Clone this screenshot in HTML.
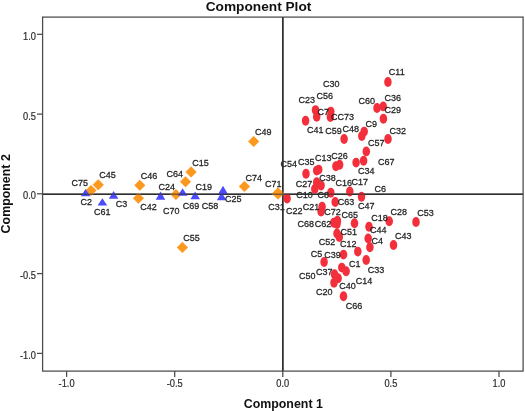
<!DOCTYPE html>
<html><head><meta charset="utf-8"><title>Component Plot</title>
<style>
html,body{margin:0;padding:0;background:#fff;}
body{width:525px;height:411px;overflow:hidden;}
svg{display:block;filter:blur(0.35px);font-family:"Liberation Sans",Arial,sans-serif;}
.lb{font-size:9.8px;fill:#1f1f1f;stroke:#222;stroke-width:0.27px;}
.tk{font-size:10.1px;fill:#2a2a2a;stroke:#333;stroke-width:0.2px;}
.ttl{font-size:12.4px;font-weight:bold;fill:#111;}
</style></head><body>
<svg width="525" height="411" viewBox="0 0 525 411">
<rect width="525" height="411" fill="#fff"/>

<g stroke="#2e2e2e" fill="none"><line x1="282.8" y1="17.1" x2="282.8" y2="371.1" stroke-width="1.6"/><line x1="42.6" y1="194.3" x2="523.1" y2="194.3" stroke-width="1.6"/></g>
<g fill="#f32f3b">
<ellipse cx="387.9" cy="82.0" rx="3.75" ry="4.95"/>
<ellipse cx="315.5" cy="110.1" rx="3.75" ry="4.95"/>
<ellipse cx="316.7" cy="116.7" rx="3.75" ry="4.95"/>
<ellipse cx="330.8" cy="111.6" rx="3.75" ry="4.95"/>
<ellipse cx="330.4" cy="117.0" rx="3.75" ry="4.95"/>
<ellipse cx="305.6" cy="120.8" rx="3.75" ry="4.95"/>
<ellipse cx="377.0" cy="108.0" rx="3.75" ry="4.95"/>
<ellipse cx="383.2" cy="106.4" rx="3.75" ry="4.95"/>
<ellipse cx="383.4" cy="118.8" rx="3.75" ry="4.95"/>
<ellipse cx="344.1" cy="139.0" rx="3.75" ry="4.95"/>
<ellipse cx="364.2" cy="131.6" rx="3.75" ry="4.95"/>
<ellipse cx="361.8" cy="136.1" rx="3.75" ry="4.95"/>
<ellipse cx="388.0" cy="139.0" rx="3.75" ry="4.95"/>
<ellipse cx="366.3" cy="151.4" rx="3.75" ry="4.95"/>
<ellipse cx="363.6" cy="160.8" rx="3.75" ry="4.95"/>
<ellipse cx="356.1" cy="162.6" rx="3.75" ry="4.95"/>
<ellipse cx="339.6" cy="164.8" rx="3.75" ry="4.95"/>
<ellipse cx="335.9" cy="166.3" rx="3.75" ry="4.95"/>
<ellipse cx="316.7" cy="170.6" rx="3.75" ry="4.95"/>
<ellipse cx="318.7" cy="169.6" rx="3.75" ry="4.95"/>
<ellipse cx="306.0" cy="173.8" rx="3.75" ry="4.95"/>
<ellipse cx="316.7" cy="182.3" rx="3.75" ry="4.95"/>
<ellipse cx="321.1" cy="185.5" rx="3.75" ry="4.95"/>
<ellipse cx="314.8" cy="188.9" rx="3.75" ry="4.95"/>
<ellipse cx="330.8" cy="192.7" rx="3.75" ry="4.95"/>
<ellipse cx="349.8" cy="191.5" rx="3.75" ry="4.95"/>
<ellipse cx="361.5" cy="196.8" rx="3.75" ry="4.95"/>
<ellipse cx="287.1" cy="198.6" rx="3.75" ry="4.95"/>
<ellipse cx="335.2" cy="202.0" rx="3.75" ry="4.95"/>
<ellipse cx="322.1" cy="206.8" rx="3.75" ry="4.95"/>
<ellipse cx="321.1" cy="211.6" rx="3.75" ry="4.95"/>
<ellipse cx="337.4" cy="220.8" rx="3.75" ry="4.95"/>
<ellipse cx="333.8" cy="222.8" rx="3.75" ry="4.95"/>
<ellipse cx="337.0" cy="224.0" rx="3.75" ry="4.95"/>
<ellipse cx="354.5" cy="223.3" rx="3.75" ry="4.95"/>
<ellipse cx="369.0" cy="226.8" rx="3.75" ry="4.95"/>
<ellipse cx="389.2" cy="221.2" rx="3.75" ry="4.95"/>
<ellipse cx="416.0" cy="222.0" rx="3.75" ry="4.95"/>
<ellipse cx="337.0" cy="233.5" rx="3.75" ry="4.95"/>
<ellipse cx="339.3" cy="237.0" rx="3.75" ry="4.95"/>
<ellipse cx="368.2" cy="238.5" rx="3.75" ry="4.95"/>
<ellipse cx="369.9" cy="247.2" rx="3.75" ry="4.95"/>
<ellipse cx="393.5" cy="245.0" rx="3.75" ry="4.95"/>
<ellipse cx="357.8" cy="251.6" rx="3.75" ry="4.95"/>
<ellipse cx="343.5" cy="254.6" rx="3.75" ry="4.95"/>
<ellipse cx="366.2" cy="260.0" rx="3.75" ry="4.95"/>
<ellipse cx="324.1" cy="262.0" rx="3.75" ry="4.95"/>
<ellipse cx="341.8" cy="267.6" rx="3.75" ry="4.95"/>
<ellipse cx="346.1" cy="271.2" rx="3.75" ry="4.95"/>
<ellipse cx="334.5" cy="274.3" rx="3.75" ry="4.95"/>
<ellipse cx="338.1" cy="278.2" rx="3.75" ry="4.95"/>
<ellipse cx="334.0" cy="282.7" rx="3.75" ry="4.95"/>
<ellipse cx="343.5" cy="296.2" rx="3.75" ry="4.95"/>
</g>
<g fill="#fb981d" stroke="#fff" stroke-width="0.4">
<polygon points="85.2,190.4 91.0,184.7 96.8,190.4 91.0,196.2"/>
<polygon points="92.5,184.8 98.3,179.1 104.0,184.8 98.3,190.6"/>
<polygon points="134.1,185.3 139.8,179.6 145.6,185.3 139.8,191.1"/>
<polygon points="132.7,198.2 138.4,192.4 144.2,198.2 138.4,203.9"/>
<polygon points="170.2,194.5 175.9,188.8 181.7,194.5 175.9,200.2"/>
<polygon points="179.8,181.8 185.5,176.1 191.2,181.8 185.5,187.6"/>
<polygon points="185.3,171.9 191.1,166.2 196.8,171.9 191.1,177.7"/>
<polygon points="238.7,186.4 244.4,180.7 250.2,186.4 244.4,192.2"/>
<polygon points="247.9,141.4 253.7,135.7 259.4,141.4 253.7,147.2"/>
<polygon points="271.7,193.4 278.0,187.1 284.3,193.4 278.0,199.7"/>
<polygon points="176.7,247.4 182.4,241.7 188.2,247.4 182.4,253.2"/>
</g>
<g fill="#4b4bfb">
<polygon points="85.6,189.0 90.4,196.3 80.8,196.3"/>
<polygon points="102.4,198.2 107.2,205.5 97.6,205.5"/>
<polygon points="113.6,190.9 118.4,198.7 108.8,198.7"/>
<polygon points="160.5,191.5 165.3,199.7 155.7,199.7"/>
<polygon points="182.6,188.2 187.4,195.8 177.8,195.8"/>
<polygon points="195.2,191.5 200.0,199.2 190.4,199.2"/>
<polygon points="223.0,185.7 227.8,194.1 218.2,194.1"/>
<polygon points="221.6,192.3 226.4,200.2 216.8,200.2"/>
</g>
<g class="lb">
<text transform="translate(71.4,186.3) scale(0.920,1)">C75</text>
<text transform="translate(99.3,177.8) scale(0.920,1)">C45</text>
<text transform="translate(80.6,205.3) scale(0.920,1)">C2</text>
<text transform="translate(94.0,214.8) scale(0.920,1)">C61</text>
<text transform="translate(115.8,206.9) scale(0.920,1)">C3</text>
<text transform="translate(140.8,178.6) scale(0.920,1)">C46</text>
<text transform="translate(158.6,190.2) scale(0.920,1)">C24</text>
<text transform="translate(140.2,210.0) scale(0.920,1)">C42</text>
<text transform="translate(166.4,177.3) scale(0.920,1)">C64</text>
<text transform="translate(162.9,214.3) scale(0.920,1)">C70</text>
<text transform="translate(192.3,165.6) scale(0.920,1)">C15</text>
<text transform="translate(195.5,190.0) scale(0.920,1)">C19</text>
<text transform="translate(182.8,209.0) scale(0.920,1)">C69</text>
<text transform="translate(201.8,208.7) scale(0.920,1)">C58</text>
<text transform="translate(225.1,201.6) scale(0.920,1)">C25</text>
<text transform="translate(255.0,134.6) scale(0.920,1)">C49</text>
<text transform="translate(245.5,180.8) scale(0.920,1)">C74</text>
<text transform="translate(264.9,186.9) scale(0.920,1)">C71</text>
<text transform="translate(268.3,210.0) scale(0.920,1)">C31</text>
<text transform="translate(183.3,240.7) scale(0.920,1)">C55</text>
<text transform="translate(388.8,75.3) scale(0.920,1)">C11</text>
<text transform="translate(322.9,87.2) scale(0.920,1)">C30</text>
<text transform="translate(316.6,98.9) scale(0.920,1)">C56</text>
<text transform="translate(298.6,103.3) scale(0.920,1)">C23</text>
<text transform="translate(317.6,114.5) scale(0.920,1)">C7</text>
<text transform="translate(330.9,120.3) scale(0.920,1)">CC73</text>
<text transform="translate(358.4,103.5) scale(0.920,1)">C60</text>
<text transform="translate(384.6,101.4) scale(0.920,1)">C36</text>
<text transform="translate(384.6,112.9) scale(0.920,1)">C29</text>
<text transform="translate(307.1,133.0) scale(0.920,1)">C41</text>
<text transform="translate(325.2,133.7) scale(0.920,1)">C59</text>
<text transform="translate(342.6,132.0) scale(0.920,1)">C48</text>
<text transform="translate(365.4,127.0) scale(0.920,1)">C9</text>
<text transform="translate(389.4,133.5) scale(0.920,1)">C32</text>
<text transform="translate(368.0,145.5) scale(0.920,1)">C57</text>
<text transform="translate(280.6,167.4) scale(0.920,1)">C54</text>
<text transform="translate(298.1,165.2) scale(0.920,1)">C35</text>
<text transform="translate(315.1,160.7) scale(0.920,1)">C13</text>
<text transform="translate(331.2,159.4) scale(0.920,1)">C26</text>
<text transform="translate(357.9,174.4) scale(0.920,1)">C34</text>
<text transform="translate(377.9,165.3) scale(0.920,1)">C67</text>
<text transform="translate(319.2,180.5) scale(0.920,1)">C38</text>
<text transform="translate(295.7,186.7) scale(0.920,1)">C27</text>
<text transform="translate(335.5,186.4) scale(0.920,1)">C16</text>
<text transform="translate(351.6,185.2) scale(0.920,1)">C17</text>
<text transform="translate(374.4,192.0) scale(0.920,1)">C6</text>
<text transform="translate(296.2,197.9) scale(0.920,1)">C10</text>
<text transform="translate(317.6,197.9) scale(0.920,1)">C8</text>
<text transform="translate(337.7,204.9) scale(0.920,1)">C63</text>
<text transform="translate(357.9,209.4) scale(0.920,1)">C47</text>
<text transform="translate(285.9,213.8) scale(0.920,1)">C22</text>
<text transform="translate(302.7,210.0) scale(0.920,1)">C21</text>
<text transform="translate(324.2,215.1) scale(0.920,1)">C72</text>
<text transform="translate(341.6,217.7) scale(0.920,1)">C65</text>
<text transform="translate(371.2,221.2) scale(0.920,1)">C18</text>
<text transform="translate(390.4,214.8) scale(0.920,1)">C28</text>
<text transform="translate(417.2,215.6) scale(0.920,1)">C53</text>
<text transform="translate(297.6,227.2) scale(0.920,1)">C68</text>
<text transform="translate(314.7,226.5) scale(0.920,1)">C62</text>
<text transform="translate(340.6,234.9) scale(0.920,1)">C51</text>
<text transform="translate(370.1,233.2) scale(0.920,1)">C44</text>
<text transform="translate(371.6,243.8) scale(0.920,1)">C4</text>
<text transform="translate(395.0,239.4) scale(0.920,1)">C43</text>
<text transform="translate(318.8,245.4) scale(0.920,1)">C52</text>
<text transform="translate(339.9,246.9) scale(0.920,1)">C12</text>
<text transform="translate(310.7,256.8) scale(0.920,1)">C5</text>
<text transform="translate(324.2,257.9) scale(0.920,1)">C39</text>
<text transform="translate(349.1,266.8) scale(0.920,1)">C1</text>
<text transform="translate(367.7,272.8) scale(0.920,1)">C33</text>
<text transform="translate(299.1,278.6) scale(0.920,1)">C50</text>
<text transform="translate(315.9,275.0) scale(0.920,1)">C37</text>
<text transform="translate(355.8,283.8) scale(0.920,1)">C14</text>
<text transform="translate(339.2,288.6) scale(0.920,1)">C40</text>
<text transform="translate(315.9,295.0) scale(0.920,1)">C20</text>
<text transform="translate(345.8,308.9) scale(0.920,1)">C66</text>
</g>
<g stroke="#2e2e2e" fill="none" opacity="0.6">
<line x1="282.8" y1="17.1" x2="282.8" y2="371.1" stroke-width="1.6"/>
<line x1="42.6" y1="194.3" x2="523.1" y2="194.3" stroke-width="1.6"/>
</g>
<g stroke="#4a4a4a" fill="none">
<rect x="42.6" y="17.1" width="480.5" height="354.0" stroke-width="1.25"/>
<line x1="66.6" y1="371.1" x2="66.6" y2="376.9" stroke-width="1.25"/>
<line x1="37.0" y1="34.3" x2="42.6" y2="34.3" stroke-width="1.25"/>
<line x1="174.7" y1="371.1" x2="174.7" y2="376.9" stroke-width="1.25"/>
<line x1="37.0" y1="114.1" x2="42.6" y2="114.1" stroke-width="1.25"/>
<line x1="282.8" y1="371.1" x2="282.8" y2="376.9" stroke-width="1.25"/>
<line x1="37.0" y1="193.8" x2="42.6" y2="193.8" stroke-width="1.25"/>
<line x1="390.9" y1="371.1" x2="390.9" y2="376.9" stroke-width="1.25"/>
<line x1="37.0" y1="273.6" x2="42.6" y2="273.6" stroke-width="1.25"/>
<line x1="499.0" y1="371.1" x2="499.0" y2="376.9" stroke-width="1.25"/>
<line x1="37.0" y1="353.4" x2="42.6" y2="353.4" stroke-width="1.25"/>
</g>
<g class="tk">
<text transform="translate(66.6,386.6) scale(0.920,1)" text-anchor="middle">-1.0</text>
<text transform="translate(36,39.7) scale(0.920,1)" text-anchor="end">1.0</text>
<text transform="translate(174.7,386.6) scale(0.920,1)" text-anchor="middle">-0.5</text>
<text transform="translate(36,119.5) scale(0.920,1)" text-anchor="end">0.5</text>
<text transform="translate(282.8,386.6) scale(0.920,1)" text-anchor="middle">0.0</text>
<text transform="translate(36,199.2) scale(0.920,1)" text-anchor="end">0.0</text>
<text transform="translate(390.9,386.6) scale(0.920,1)" text-anchor="middle">0.5</text>
<text transform="translate(36,279.0) scale(0.920,1)" text-anchor="end">-0.5</text>
<text transform="translate(499.0,386.6) scale(0.920,1)" text-anchor="middle">1.0</text>
<text transform="translate(36,358.8) scale(0.920,1)" text-anchor="end">-1.0</text>
</g>
<text class="ttl" x="258.5" y="10.7" text-anchor="middle" style="font-size:13.7px">Component Plot</text>
<text class="ttl" x="283.3" y="407.7" text-anchor="middle">Component 1</text>
<text class="ttl" transform="translate(9.7,193.8) rotate(-90)" text-anchor="middle">Component 2</text>
</svg></body></html>
